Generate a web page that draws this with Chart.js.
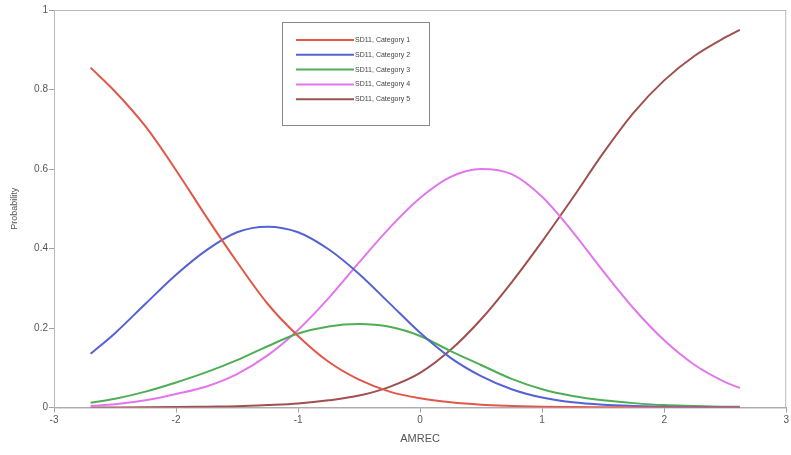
<!DOCTYPE html>
<html>
<head>
<meta charset="utf-8">
<script src="https://cdn.jsdelivr.net/npm/chart.js@4/dist/chart.umd.min.js"></script>
<style>
    html, body { margin: 0; padding: 0; background: #fff; }
    #wrap { position: relative; width: 791px; height: 455px; }
</style>
</head>
<body>
<div id="wrap"><canvas id="chart" width="791" height="455"></canvas></div>
<script>
// AMREC values where the curves were read
const amrec = [-2.7, -2.5, -2.25, -2.0, -1.75, -1.5, -1.25, -1.0, -0.75, -0.5, -0.25, 0,
    0.25, 0.5, 0.75, 1.0, 1.25, 1.5, 1.75, 2.0, 2.25, 2.5, 2.62];

const category1 = [0.855, 0.795, 0.707, 0.597, 0.479, 0.366, 0.261, 0.180, 0.115, 0.070, 0.040, 0.023,
    0.013, 0.007, 0.004, 0.002, 0.001, 0.0005, 0.0003, 0.0002, 0.0001, 0.0001, 0.0001];
const category2 = [0.135, 0.187, 0.261, 0.334, 0.396, 0.441, 0.455, 0.441, 0.398, 0.336, 0.262, 0.188,
    0.125, 0.079, 0.046, 0.025, 0.013, 0.007, 0.004, 0.002, 0.001, 0.0005, 0.0003];
const category3 = [0.012, 0.022, 0.040, 0.063, 0.089, 0.119, 0.154, 0.186, 0.204, 0.210, 0.203, 0.180,
    0.142, 0.107, 0.072, 0.046, 0.029, 0.018, 0.011, 0.006, 0.004, 0.002, 0.002];
const category4 = [0.004, 0.008, 0.018, 0.034, 0.053, 0.084, 0.131, 0.195, 0.275, 0.365, 0.452, 0.527,
    0.580, 0.600, 0.587, 0.530, 0.442, 0.343, 0.249, 0.169, 0.107, 0.064, 0.049];
const category5 = [0.0001, 0.0002, 0.0004, 0.001, 0.002, 0.003, 0.006, 0.010, 0.018, 0.030, 0.052, 0.087,
    0.145, 0.222, 0.315, 0.418, 0.527, 0.640, 0.742, 0.823, 0.885, 0.931, 0.950];

const seriesNames = ['SD11, Category 1', 'SD11, Category 2', 'SD11, Category 3', 'SD11, Category 4', 'SD11, Category 5'];
const seriesValues = [category1, category2, category3, category4, category5];
const seriesColors = ['#e0584a', '#5562d2', '#4fae55', '#e276ec', '#a0504f'];

const xTicks = [-3, -2, -1, 0, 1, 2, 3];
const yTicks = [0, 0.2, 0.4, 0.6, 0.8, 1];

const fontFamily = "'Liberation Sans Narrow', 'Liberation Sans', Arial, sans-serif";
const textColor = '#555';
const axisColor = '#a0a0a0';

// frame round the plot area (top and right sides)
const framePlugin = {
    id: 'frame',
    beforeDatasetsDraw(chart) {
        const a = chart.chartArea;
        const ctx = chart.ctx;
        ctx.save();
        ctx.strokeStyle = '#b8b8b8';
        ctx.lineWidth = 1;
        ctx.strokeRect(a.left + 0.5, a.top + 0.5, a.right - a.left - 1, a.bottom - a.top);
        ctx.restore();
    }
};

// boxed legend inside the plot
const boxLegend = {
    id: 'boxLegend',
    afterDraw(chart) {
        const ctx = chart.ctx;
        const left = 282, top = 22, w = 147, h = 103;
        ctx.save();
        ctx.fillStyle = '#fff';
        ctx.fillRect(left, top, w, h);
        ctx.strokeStyle = '#888';
        ctx.lineWidth = 1;
        ctx.strokeRect(left + 0.5, top + 0.5, w, h);
        ctx.font = '7px ' + fontFamily;
        ctx.textBaseline = 'middle';
        chart.data.datasets.forEach((ds, i) => {
            const y = top + 18 + i * 14.8;
            ctx.strokeStyle = ds.borderColor;
            ctx.lineWidth = 2;
            ctx.beginPath();
            ctx.moveTo(left + 14, y);
            ctx.lineTo(left + 72, y);
            ctx.stroke();
            ctx.fillStyle = '#444';
            ctx.fillText(ds.label, left + 73, y);
        });
        ctx.restore();
    }
};

const datasets = seriesNames.map((name, i) => ({
    label: name,
    data: amrec.map((x, j) => ({ x: x, y: seriesValues[i][j] })),
    borderColor: seriesColors[i],
    backgroundColor: seriesColors[i],
    borderWidth: 2,
    pointRadius: 0,
    fill: false,
    cubicInterpolationMode: 'monotone'
}));

new Chart(document.getElementById('chart'), {
    type: 'line',
    data: { datasets: datasets },
    options: {
        responsive: false,
        animation: false,
        layout: { padding: { top: 10, right: 2, left: 0, bottom: 0 } },
        plugins: {
            legend: { display: false },
            tooltip: { enabled: false }
        },
        scales: {
            x: {
                type: 'linear',
                min: -3,
                max: 3,
                afterBuildTicks: axis => { axis.ticks = xTicks.map(v => ({ value: v })); },
                afterFit: axis => { axis.height = 47.5; },
                grid: { drawOnChartArea: false, tickLength: 5, color: axisColor },
                border: { color: axisColor },
                ticks: { color: textColor, font: { family: fontFamily, size: 10 }, padding: 2, maxRotation: 0 },
                title: { display: true, text: 'AMREC', color: textColor, font: { family: fontFamily, size: 11 }, padding: { top: 2, bottom: 9 } }
            },
            y: {
                min: 0,
                max: 1,
                afterBuildTicks: axis => { axis.ticks = yTicks.map(v => ({ value: v })); },
                afterFit: axis => { axis.width = 54; },
                grid: { drawOnChartArea: false, tickLength: 5, color: axisColor },
                border: { color: axisColor },
                ticks: {
                    color: textColor,
                    font: { family: fontFamily, size: 10 },
                    padding: 1,
                    callback: v => String(Number(v.toFixed(1)))
                },
                title: { display: true, text: 'Probability', color: textColor, font: { family: fontFamily, size: 9 }, padding: { top: 9, bottom: 0 } }
            }
        }
    },
    plugins: [framePlugin, boxLegend]
});
</script>
</body>
</html>
